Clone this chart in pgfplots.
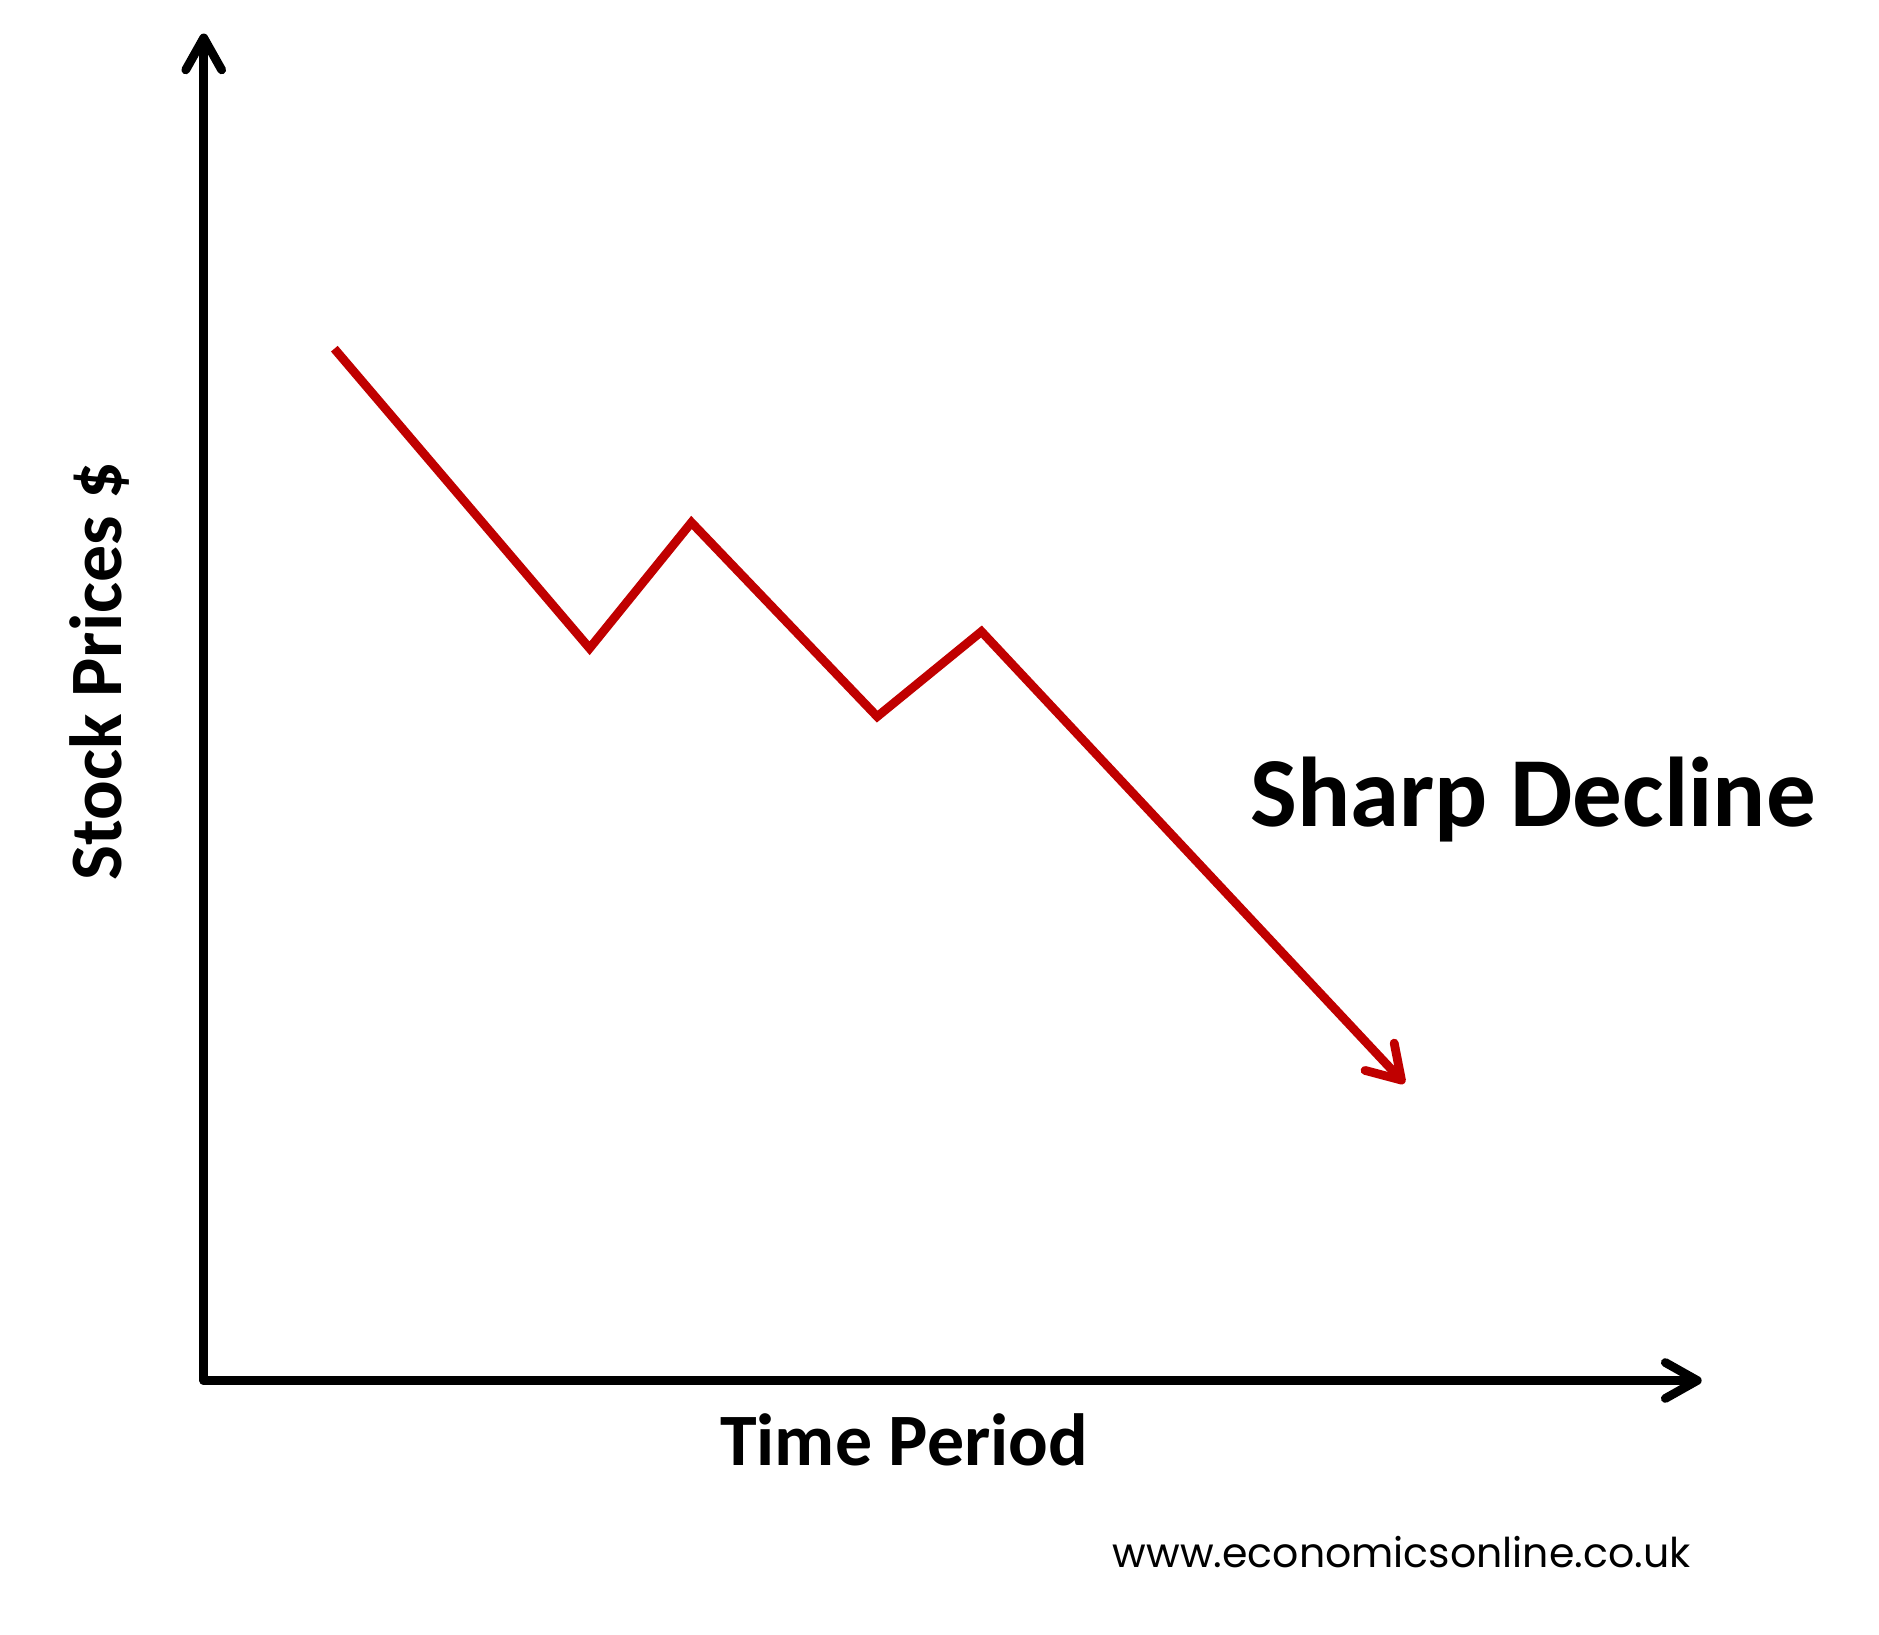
\documentclass[border=0pt]{standalone}
\usepackage{fontspec}
\setmainfont{Carlito}
\newfontfamily\urlfont{Poppins}
\usepackage{pgfplots}
\pgfplotsset{compat=1.18}
\usetikzlibrary{arrows.meta}
\definecolor{darkred}{RGB}{192,0,0}
\begin{document}
\begin{tikzpicture}
\begin{axis}[
  width=375pt, height=337.2pt, scale only axis,
  xmin=170, xmax=1420, ymin=212, ymax=1336,
  axis x line=bottom, axis y line=left,
  xtick=\empty, ytick=\empty,
  axis line style={line width=2.2pt, line cap=round, -{Straight Barb[length=8pt,width=9pt,round]}},
  clip=false,
]
\addplot[color=darkred, line width=2.2pt, miter limit=10, line join=miter,
  -{Straight Barb[length=8pt,width=10pt,round]}]
  coordinates {(279,1073) (492,823) (577,928) (732,766) (819,837) (1172,460)};
\node[anchor=base, font=\bfseries\fontsize{18.5}{20}\selectfont, inner sep=0pt] at (axis cs:754.5,141) {Time Period};
\node[anchor=base, rotate=90, font=\bfseries\fontsize{18.5}{20}\selectfont, inner sep=0pt] at (axis cs:101,804) {Stock Prices \$};
\node[anchor=base west, font=\bfseries\fontsize{24.8}{26}\selectfont, inner sep=0pt] at (axis cs:1043,674) {Sharp Decline};
\node[anchor=base west, inner sep=0pt] at (axis cs:928,56) {\resizebox{144.6pt}{!}{\urlfont\fontsize{10.5}{12}\selectfont www.economicsonline.co.uk}};
\coordinate (bl) at (axis cs:0,0);
\coordinate (tr) at (axis cs:1568,1364);
\end{axis}
\pgfresetboundingbox
\path[use as bounding box] (bl) rectangle (tr);
\end{tikzpicture}
\end{document}
